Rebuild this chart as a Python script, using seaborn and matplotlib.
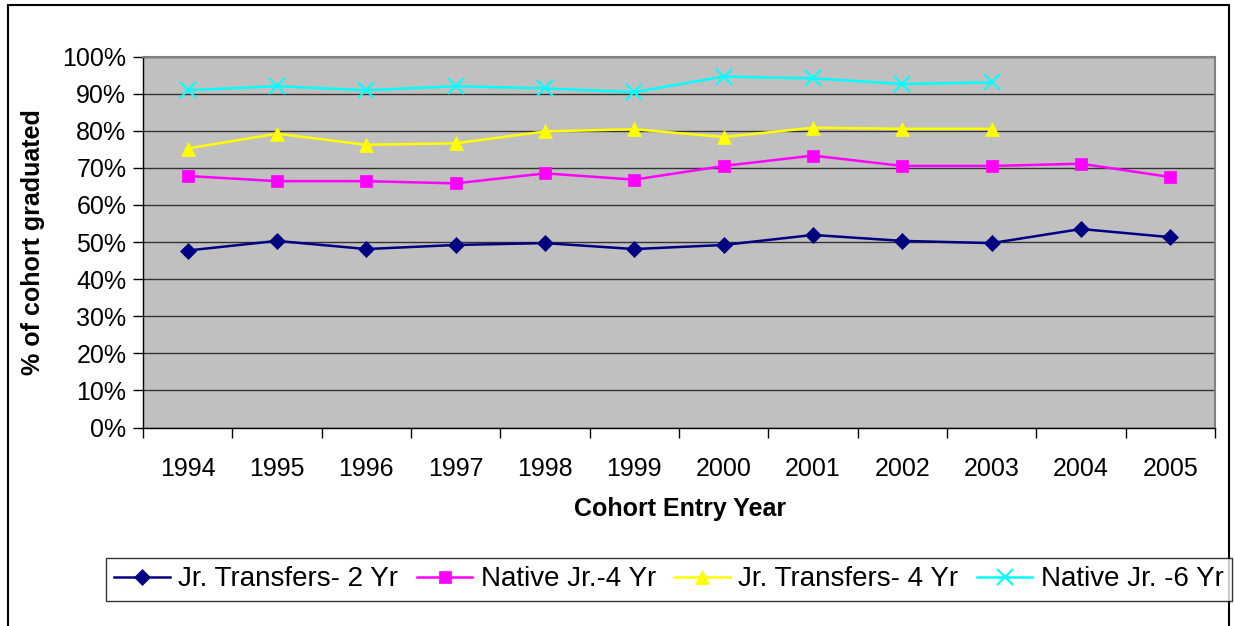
import numpy as np
import pandas as pd
import matplotlib
matplotlib.use("Agg")
import matplotlib.pyplot as plt
import matplotlib.ticker as mticker
from matplotlib.patches import Rectangle
import seaborn as sns

years = ["1994", "1995", "1996", "1997", "1998", "1999",
         "2000", "2001", "2002", "2003", "2004", "2005"]
jr_transfers_2yr = [47.7, 50.3, 48.1, 49.2, 49.7, 48.1, 49.2, 51.9, 50.3, 49.7, 53.5, 51.3]
native_jr_4yr = [67.8, 66.4, 66.4, 65.8, 68.5, 66.8, 70.5, 73.3, 70.5, 70.5, 71.1, 67.5]
jr_transfers_4yr = [75.2, 79.2, 76.2, 76.6, 79.8, 80.4, 78.3, 80.8, 80.5, 80.5, np.nan, np.nan]
native_jr_6yr = [90.9, 92.0, 90.9, 92.0, 91.4, 90.4, 94.6, 94.1, 92.6, 93.0, np.nan, np.nan]

series_names = ["Jr. Transfers- 2 Yr", "Native Jr.-4 Yr",
                "Jr. Transfers- 4 Yr", "Native Jr. -6 Yr"]
series_values = [jr_transfers_2yr, native_jr_4yr, jr_transfers_4yr, native_jr_6yr]
colors = ["#000080", "#FF00FF", "#FFFF00", "#00FFFF"]
markers = ["D", "s", "^", "x"]
marker_sizes = [8, 9, 10, 11]

rows = []
for name, vals in zip(series_names, series_values):
    for i, v in enumerate(vals):
        rows.append({"pos": i, "series": name, "value": v})
df = pd.DataFrame(rows).dropna()

plt.rcParams["font.family"] = ["Liberation Sans", "DejaVu Sans"]

fig = plt.figure(figsize=(12.35, 6.26), dpi=100)
ax = fig.add_axes([143 / 1235, 1 - 427.5 / 626, (1215 - 143) / 1235, (427.5 - 56.5) / 626])
ax.set_facecolor("#C0C0C0")

for name, color, mk, ms in zip(series_names, colors, markers, marker_sizes):
    sub = df[df["series"] == name]
    sns.lineplot(data=sub, x="pos", y="value", ax=ax, color=color, marker=mk,
                 markersize=ms, linewidth=1.8, markeredgecolor=color,
                 markeredgewidth=1.5 if mk == "x" else 0.5, label=name)

ax.set_xlim(-0.5, len(years) - 0.5)
ax.set_ylim(0, 100)
ax.set_yticks(np.arange(0, 101, 10))
ax.yaxis.set_major_formatter(mticker.FuncFormatter(lambda v, p: f"{int(v)}%"))
ax.grid(True, axis="y", color="#333333", linewidth=1)
ax.set_axisbelow(True)

# category boundaries as ticks, labels in the middle
ax.set_xticks(np.arange(-0.5, len(years), 1))
ax.set_xticklabels([])
ax.set_xticks(np.arange(len(years)), minor=True)
ax.set_xticklabels(years, minor=True)
ax.tick_params(axis="x", which="major", length=7, width=1, color="black", direction="out")
ax.tick_params(axis="x", which="minor", length=0, pad=21, labelsize=18)
ax.tick_params(axis="y", length=7, width=1, color="black", direction="out", labelsize=18, pad=5)

for side in ["left", "bottom"]:
    ax.spines[side].set_color("black")
    ax.spines[side].set_linewidth(1)
for side in ["top", "right"]:
    ax.spines[side].set_color("#808080")
    ax.spines[side].set_linewidth(1.5)

ax.set_xlabel("")
ax.set_ylabel("")
fig.text(680 / 1235, 1 - 509 / 626, "Cohort Entry Year", ha="center", va="center",
         fontsize=18, fontweight="bold")
fig.text(33 / 1235, 1 - 242 / 626, "% of cohort graduated", ha="center", va="center",
         rotation=90, fontsize=18, fontweight="bold")

handles, labels = ax.get_legend_handles_labels()
ax.get_legend().remove()
leg = fig.legend(handles, labels, loc="center", ncol=4, mode="expand",
                 bbox_to_anchor=(106 / 1235, 1 - 604 / 626, 1126 / 1235, 49 / 626),
                 fontsize=20, frameon=True, fancybox=False, handlelength=2.0,
                 handletextpad=0.3, columnspacing=0.5, borderaxespad=0, borderpad=0.3)
leg.get_frame().set_edgecolor("black")
leg.get_frame().set_linewidth(1)

fig.patches.append(Rectangle((8 / 1235, -0.05), (1229 - 8) / 1235, 1.05 - 5 / 626,
                             transform=fig.transFigure, fill=False,
                             edgecolor="black", linewidth=1.5))

fig.savefig("out.png", dpi=100)
